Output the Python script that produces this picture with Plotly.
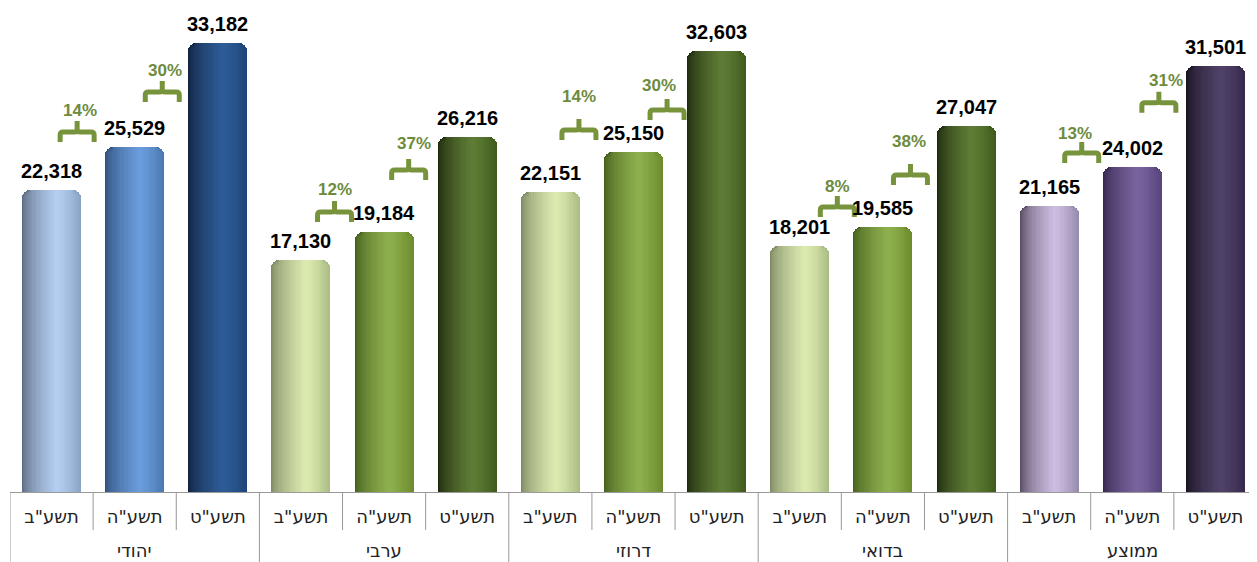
import plotly.graph_objects as go

# ──────────────────────────────────────────
# DATA
# ──────────────────────────────────────────
groups = ["יהודי", "ערבי", "דרוזי", "בדואי", "ממוצע"]
years = ['תשע"ב', 'תשע"ה', 'תשע"ט']

values_jewish = [22318, 25529, 33182]
values_arab = [17130, 19184, 26216]
values_druze = [22151, 25150, 32603]
values_bedouin = [18201, 19585, 27047]
values_average = [21165, 24002, 31501]

all_values = [values_jewish, values_arab, values_druze, values_bedouin, values_average]

# ──────────────────────────────────────────
# STYLE
# ──────────────────────────────────────────
GREEN_TXT = "#77933C"
AXIS_GRAY = "#999999"
PLOT_H = 484
SLOT_PX = 1247 / 15
BAR_W = 0.71
CAP_PX = 8

# (left edge, highlight, right edge) per tone
TONES = {
    "blue": [("#56657a", "#b5cff2", "#8aa3c4"),
             ("#2c4b75", "#6a9ddc", "#4a78b0"),
             ("#0e203c", "#2e5c97", "#1d4478")],
    "green": [("#78825f", "#dcebb0", "#a9bb84"),
              ("#3f5a1a", "#8fb04e", "#6a8a2c"),
              ("#19240b", "#5f7d36", "#3f5a1c")],
    "purple": [("#4f4559", "#cdbde2", "#958aab"),
               ("#302346", "#7a64a0", "#56437a"),
               ("#150f1d", "#504268", "#35284a")],
}
GROUP_TONE = ["blue", "green", "green", "green", "purple"]

# brackets: (center offset from boundary px, level in data units, text dx px, text dy px)
BRACKETS = [
    (-16, 26600, 3, 22), (-14, 29560, 3, 22),
    (-8, 20700, 0, 22), (-17, 23800, 5, 26),
    (-13, 26750, 0, 34), (-8, 28230, -8, 25),
    (-4, 21060, 0, 21), (-14, 23430, -1, 33),
    (-9, 25050, -7, 20), (-15, 28770, 7, 22),
]


def hex_rgb(h):
    return tuple(int(h[i:i + 2], 16) for i in (1, 3, 5))


def mix(c1, c2, f):
    a, b = hex_rgb(c1), hex_rgb(c2)
    return "rgb({},{},{})".format(*[round(a[i] + (b[i] - a[i]) * f) for i in range(3)])


def shade(tone, t):
    left, peak, right = tone
    if t < 0.58:
        f = (t / 0.58) ** 0.6
        return mix(left, peak, f)
    f = ((t - 0.58) / 0.42) ** 1.3
    return mix(peak, right, f)


# ──────────────────────────────────────────
# BARS
# ──────────────────────────────────────────
xs, ys, tones = [], [], []
for g, vals in enumerate(all_values):
    for k, v in enumerate(vals):
        xs.append(g * len(years) + k)
        ys.append(v)
        tones.append(TONES[GROUP_TONE[g]][k])

fig = go.Figure()
r = CAP_PX / SLOT_PX
bar_px = BAR_W * SLOT_PX


def add_layer(off, width, t, radius=0):
    fig.add_trace(go.Bar(
        x=xs, y=ys, offset=off, width=width,
        marker=dict(color=[shade(tn, t) for tn in tones], cornerradius=radius, line_width=0),
        hoverinfo="skip", showlegend=False,
    ))


# rounded edges: shifted round-top layers give a smooth shading near the rim
for d in range(CAP_PX):
    dd = d / SLOT_PX
    add_layer(-BAR_W / 2 + dd, 2 * r, (d + 0.5) / bar_px, CAP_PX)
    add_layer(BAR_W / 2 - 2 * r - dd, 2 * r, 1 - (d + 0.5) / bar_px, CAP_PX)

# cylinder shading stripes in the middle
N = 18
inner = BAR_W - 2 * r
sw = inner / N
for k in range(N):
    t = (r + (k + 0.5) * sw) / BAR_W
    add_layer(-BAR_W / 2 + r + k * sw, sw * (1.4 if k < N - 1 else 1.0), t)

# value labels
for x, v in zip(xs, ys):
    fig.add_annotation(
        x=x, y=v, text=f"{v:,}", showarrow=False, yanchor="bottom", yshift=6,
        font=dict(family="Liberation Sans, Arial", size=20, color="black", weight="bold"),
    )

# growth brackets
b = 0
for g, vals in enumerate(all_values):
    for k in range(len(vals) - 1):
        dx, level, tdx, tdy = BRACKETS[b]
        bx = g * len(years) + k + 0.5
        pct = round((vals[k + 1] / vals[k] - 1) * 100)
        path = (f"M {dx-17},-10 L {dx-17},-3 Q {dx-17},0 {dx-14},0 L {dx-3},0 Q {dx},0 {dx},3 "
                f"L {dx},11 M {dx},3 Q {dx},0 {dx+3},0 L {dx+14},0 Q {dx+17},0 {dx+17},-3 "
                f"L {dx+17},-10")
        fig.add_shape(type="path", xref="x", yref="y", xsizemode="pixel", ysizemode="pixel",
                      xanchor=bx, yanchor=level, path=path,
                      line=dict(color=GREEN_TXT, width=5))
        fig.add_annotation(
            x=bx, y=level, text=f"{pct}%", showarrow=False, xshift=dx + tdx, yshift=tdy,
            font=dict(family="Liberation Sans, Arial", size=17, color="#6E8B3D", weight="bold"),
        )
        b += 1

# category dividers and group labels
n = len(groups) * len(years)
for i in range(n + 1):
    edge = i % len(years) == 0
    fig.add_shape(type="line", xref="x", yref="paper", x0=i - 0.5, x1=i - 0.5,
                  y0=0, y1=-0.2 if edge else -38 / PLOT_H,
                  line=dict(color=AXIS_GRAY, width=1))
for g, name in enumerate(groups):
    fig.add_annotation(
        x=g * len(years) + 1, y=0, xref="x", yref="paper", text=name, showarrow=False,
        yanchor="top", yshift=-46, font=dict(family="DejaVu Sans", size=18, color="#222222"),
    )

fig.update_layout(
    width=1249, height=554,
    barmode="overlay", bargap=0,
    plot_bgcolor="white", paper_bgcolor="white",
    margin=dict(l=2, r=0, t=0, b=70, pad=0),
    xaxis=dict(
        range=[-0.5, n - 0.5], tickvals=xs, ticktext=years * len(groups),
        showline=True, linecolor=AXIS_GRAY, linewidth=1, showgrid=False, zeroline=False,
        ticks="", ticklabelstandoff=8,
        tickfont=dict(family="DejaVu Sans", size=18, color="#222222"),
    ),
    yaxis=dict(range=[0, 35772], visible=False, showgrid=False),
)

fig.write_html("out.html")
